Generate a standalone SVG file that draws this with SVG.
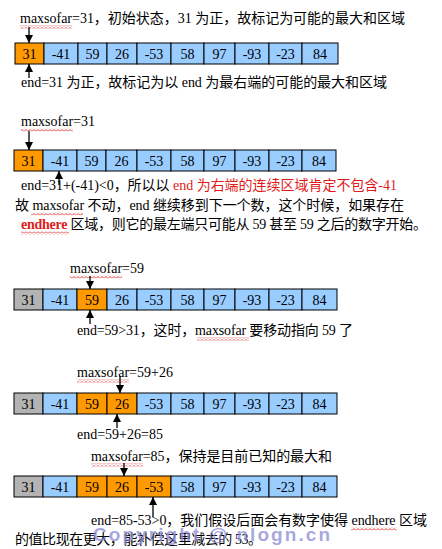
<svg xmlns="http://www.w3.org/2000/svg" width="442" height="549" viewBox="0 0 442 549">
<style>
text{font-family:"Liberation Serif","Noto Sans CJK SC",serif;font-size:14px;fill:#000}
.n{text-anchor:middle}
.o{fill:#FF9900;stroke:#000;stroke-width:1}
.b{fill:#99CCFF;stroke:#000;stroke-width:1}
.g{fill:#B3B3B3;stroke:#000;stroke-width:1}
.red{fill:#E01B1B}
.bold{font-weight:bold}
.arr{stroke:#000;stroke-width:1.3;fill:none;marker-end:url(#ah)}
.wv{fill:url(#wave)}
.wm{font-family:"Liberation Sans",Arial,sans-serif;font-weight:bold;font-size:19px;fill:#8A8AD6;fill-opacity:0.75}
</style>
<defs>
<marker id="ah" markerUnits="userSpaceOnUse" markerWidth="8" markerHeight="8" refX="8" refY="4" orient="auto">
<path d="M0,0 L8,4 L0,8 z" fill="#000"/>
</marker>
<pattern id="wave" patternUnits="userSpaceOnUse" width="4" height="3">
<path d="M0,2.5 L2,0.5 L4,2.5" stroke="#E02020" stroke-width="0.9" fill="none"/>
</pattern>
</defs>
<rect width="442" height="549" fill="#fff"/>

<!-- Row 1 -->
<g id="row1">
<g id="r1c1"><rect class="o" x="15" y="43" width="29" height="21"/><text class="n" x="29.5" y="59">31</text></g>
<g id="r1c2"><rect class="b" x="44" y="43" width="34" height="21"/><text class="n" x="61" y="59">-41</text></g>
<g id="r1c3"><rect class="b" x="78" y="43" width="29" height="21"/><text class="n" x="92.5" y="59">59</text></g>
<g id="r1c4"><rect class="b" x="107" y="43" width="30" height="21"/><text class="n" x="122" y="59">26</text></g>
<g id="r1c5"><rect class="b" x="137" y="43" width="34" height="21"/><text class="n" x="154" y="59">-53</text></g>
<g id="r1c6"><rect class="b" x="171" y="43" width="33" height="21"/><text class="n" x="187.5" y="59">58</text></g>
<g id="r1c7"><rect class="b" x="204" y="43" width="31" height="21"/><text class="n" x="219.5" y="59">97</text></g>
<g id="r1c8"><rect class="b" x="235" y="43" width="34" height="21"/><text class="n" x="252" y="59">-93</text></g>
<g id="r1c9"><rect class="b" x="269" y="43" width="33" height="21"/><text class="n" x="285.5" y="59">-23</text></g>
<g id="r1c10"><rect class="b" x="302" y="43" width="36" height="21"/><text class="n" x="320" y="59">84</text></g>
</g>

<!-- Row 2 -->
<g id="row2">
<g id="r2c1"><rect class="o" x="14" y="150" width="29" height="21"/><text class="n" x="28.5" y="166">31</text></g>
<g id="r2c2"><rect class="b" x="43" y="150" width="34" height="21"/><text class="n" x="60" y="166">-41</text></g>
<g id="r2c3"><rect class="b" x="77" y="150" width="29" height="21"/><text class="n" x="91.5" y="166">59</text></g>
<g id="r2c4"><rect class="b" x="106" y="150" width="31" height="21"/><text class="n" x="121.5" y="166">26</text></g>
<g id="r2c5"><rect class="b" x="137" y="150" width="34" height="21"/><text class="n" x="154" y="166">-53</text></g>
<g id="r2c6"><rect class="b" x="171" y="150" width="33" height="21"/><text class="n" x="187.5" y="166">58</text></g>
<g id="r2c7"><rect class="b" x="204" y="150" width="31" height="21"/><text class="n" x="219.5" y="166">97</text></g>
<g id="r2c8"><rect class="b" x="235" y="150" width="34" height="21"/><text class="n" x="252" y="166">-93</text></g>
<g id="r2c9"><rect class="b" x="269" y="150" width="33" height="21"/><text class="n" x="285.5" y="166">-23</text></g>
<g id="r2c10"><rect class="b" x="302" y="150" width="34" height="21"/><text class="n" x="319" y="166">84</text></g>
</g>

<!-- Row 3 -->
<g id="row3">
<g id="r3c1"><rect class="g" x="14" y="289" width="29" height="21"/><text class="n" x="28.5" y="305">31</text></g>
<g id="r3c2"><rect class="b" x="43" y="289" width="34" height="21"/><text class="n" x="60" y="305">-41</text></g>
<g id="r3c3"><rect class="o" x="77" y="289" width="30" height="21"/><text class="n" x="92" y="305">59</text></g>
<g id="r3c4"><rect class="b" x="107" y="289" width="30" height="21"/><text class="n" x="122" y="305">26</text></g>
<g id="r3c5"><rect class="b" x="137" y="289" width="34" height="21"/><text class="n" x="154" y="305">-53</text></g>
<g id="r3c6"><rect class="b" x="171" y="289" width="33" height="21"/><text class="n" x="187.5" y="305">58</text></g>
<g id="r3c7"><rect class="b" x="204" y="289" width="31" height="21"/><text class="n" x="219.5" y="305">97</text></g>
<g id="r3c8"><rect class="b" x="235" y="289" width="34" height="21"/><text class="n" x="252" y="305">-93</text></g>
<g id="r3c9"><rect class="b" x="269" y="289" width="33" height="21"/><text class="n" x="285.5" y="305">-23</text></g>
<g id="r3c10"><rect class="b" x="302" y="289" width="35" height="21"/><text class="n" x="319.5" y="305">84</text></g>
</g>

<!-- Row 4 -->
<g id="row4">
<g id="r4c1"><rect class="g" x="14" y="393" width="29" height="21"/><text class="n" x="28.5" y="409">31</text></g>
<g id="r4c2"><rect class="b" x="43" y="393" width="34" height="21"/><text class="n" x="60" y="409">-41</text></g>
<g id="r4c3"><rect class="o" x="77" y="393" width="30" height="21"/><text class="n" x="92" y="409">59</text></g>
<g id="r4c4"><rect class="o" x="107" y="393" width="30" height="21"/><text class="n" x="122" y="409">26</text></g>
<g id="r4c5"><rect class="b" x="137" y="393" width="34" height="21"/><text class="n" x="154" y="409">-53</text></g>
<g id="r4c6"><rect class="b" x="171" y="393" width="33" height="21"/><text class="n" x="187.5" y="409">58</text></g>
<g id="r4c7"><rect class="b" x="204" y="393" width="31" height="21"/><text class="n" x="219.5" y="409">97</text></g>
<g id="r4c8"><rect class="b" x="235" y="393" width="34" height="21"/><text class="n" x="252" y="409">-93</text></g>
<g id="r4c9"><rect class="b" x="269" y="393" width="33" height="21"/><text class="n" x="285.5" y="409">-23</text></g>
<g id="r4c10"><rect class="b" x="302" y="393" width="35" height="21"/><text class="n" x="319.5" y="409">84</text></g>
</g>

<!-- Row 5 -->
<g id="row5">
<g id="r5c1"><rect class="g" x="14" y="476" width="29" height="21"/><text class="n" x="28.5" y="492">31</text></g>
<g id="r5c2"><rect class="b" x="43" y="476" width="34" height="21"/><text class="n" x="60" y="492">-41</text></g>
<g id="r5c3"><rect class="o" x="77" y="476" width="30" height="21"/><text class="n" x="92" y="492">59</text></g>
<g id="r5c4"><rect class="o" x="107" y="476" width="30" height="21"/><text class="n" x="122" y="492">26</text></g>
<g id="r5c5"><rect class="o" x="137" y="476" width="34" height="21"/><text class="n" x="154" y="492">-53</text></g>
<g id="r5c6"><rect class="b" x="171" y="476" width="33" height="21"/><text class="n" x="187.5" y="492">58</text></g>
<g id="r5c7"><rect class="b" x="204" y="476" width="31" height="21"/><text class="n" x="219.5" y="492">97</text></g>
<g id="r5c8"><rect class="b" x="235" y="476" width="34" height="21"/><text class="n" x="252" y="492">-93</text></g>
<g id="r5c9"><rect class="b" x="269" y="476" width="33" height="21"/><text class="n" x="285.5" y="492">-23</text></g>
<g id="r5c10"><rect class="b" x="302" y="476" width="35" height="21"/><text class="n" x="319.5" y="492">84</text></g>
</g>

<!-- Labels -->
<g id="labels">
<text id="t1" x="20" y="23" textLength="385">maxsofar=31，初始状态，31 为正，故标记为可能的最大和区域</text>
<text id="t2" x="21" y="87" textLength="366">end=31 为正，故标记为以 end 为最右端的可能的最大和区域</text>
<text id="t3" x="21" y="126">maxsofar=31</text>
<text id="t4" x="21" y="190" textLength="376">end=31+(-41)&lt;0，所以以 <tspan class="red">end 为右端的连续区域肯定不包含-41</tspan></text>
<text id="t5" x="15" y="210" textLength="389">故 maxsofar 不动，end 继续移到下一个数，这个时候，如果存在</text>
<text id="t6" x="21" y="229" textLength="406"><tspan class="red bold">endhere</tspan> 区域，则它的最左端只可能从 59 甚至 59 之后的数字开始。</text>
<text id="t7" x="70" y="273">maxsofar=59</text>
<text id="t8" x="77" y="335" textLength="276">end=59&gt;31，这时，maxsofar 要移动指向 59 了</text>
<text id="t9" x="77" y="377">maxsofar=59+26</text>
<text id="t10" x="77" y="439">end=59+26=85</text>
<text id="t11" x="91" y="461" textLength="241">maxsofar=85，保持是目前已知的最大和</text>
<text id="t12" x="91" y="525" textLength="336">end=85-53&gt;0，我们假设后面会有数字使得 endhere 区域</text>
<text id="t13" x="15" y="544" textLength="247">的值比现在更大，能补偿这里减去的 53。</text>
</g>

<!-- Spell-check underlines -->
<g id="underlines">
<rect class="wv" x="20" y="25.5" width="52" height="3"/>
<rect class="wv" x="21" y="128.5" width="52" height="3"/>
<rect class="wv" x="31" y="212.5" width="52" height="3"/>
<rect class="wv" x="21" y="231.5" width="48" height="3"/>
<rect class="wv" x="70" y="275.5" width="52" height="3"/>
<rect class="wv" x="197" y="337.5" width="52" height="3"/>
<rect class="wv" x="77" y="379.5" width="52" height="3"/>
<rect class="wv" x="91" y="463.5" width="52" height="3"/>
<rect class="wv" x="351" y="527.5" width="46" height="3"/>
</g>

<!-- Connectors -->
<g id="connectors">
<line class="arr" x1="29" y1="27" x2="29" y2="43"/>
<line class="arr" x1="29" y1="78" x2="29" y2="64"/>
<line class="arr" x1="29" y1="131" x2="29" y2="150"/>
<line class="arr" x1="59" y1="185" x2="59" y2="171"/>
<line class="arr" x1="90" y1="276" x2="90" y2="289"/>
<line class="arr" x1="90" y1="324" x2="90" y2="310"/>
<line class="arr" x1="120" y1="377" x2="120" y2="393"/>
<line class="arr" x1="117" y1="428" x2="117" y2="414"/>
<line class="arr" x1="124" y1="463" x2="124" y2="476"/>
<line class="arr" x1="153" y1="517" x2="153" y2="497"/>
</g>

<text id="watermark" class="wm" x="93" y="541" textLength="237">Copyright @ nlogn.cn</text>
</svg>
